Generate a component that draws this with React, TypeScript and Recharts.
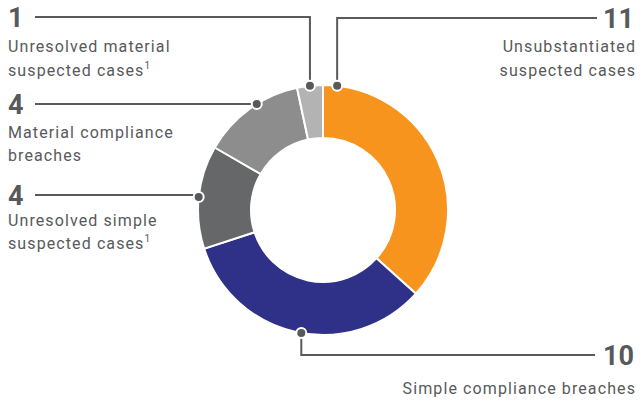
import { PieChart, Pie, Cell } from 'recharts';

const categories = [
  'Unsubstantiated suspected cases',
  'Simple compliance breaches',
  'Unresolved simple suspected cases',
  'Material compliance breaches',
  'Unresolved material suspected cases',
];
const caseCounts = [11, 10, 4, 4, 1];
const descLines = [
  ['Unsubstantiated', 'suspected cases'],
  ['Simple compliance breaches'],
  ['Unresolved simple', 'suspected cases'],
  ['Material compliance', 'breaches'],
  ['Unresolved material', 'suspected cases'],
];
const footnoted = [false, false, true, false, true];
const sliceColors = ['#f7941d', '#2e3187', '#666769', '#8d8d8e', '#b3b3b3'];

// label layout (annotation only)
const labelSide = ['right', 'right', 'left', 'left', 'left'];
const leaderY = [18, 355, 195, 104, 17];
const leaderEnd = [597, 595, 35, 35, 35];
const angleShift = [59.5, 2, 0, -4, 0];
const descOffsets = [[34, 58], [39], [31, 54], [34, 57], [35, 59]];

const data = categories.map((name, i) => ({ name, value: caseCounts[i] }));

const RAD = Math.PI / 180;
const TEXT = '#58595b';
const FONT = 'Roboto, sans-serif';

function renderLabel(props: any) {
  const { cx, cy, midAngle, outerRadius, index } = props;
  const a = (midAngle + angleShift[index]) * RAD;
  const dx = cx + outerRadius * Math.cos(-a);
  const dy = cy + outerRadius * Math.sin(-a);
  const ly = leaderY[index];
  const right = labelSide[index] === 'right';
  const tx = right ? 634 : 8;
  const anchor = right ? 'end' : 'start';
  return (
    <g key={`lbl-${index}`}>
      <polyline
        points={`${leaderEnd[index]},${ly} ${dx},${ly} ${dx},${dy}`}
        fill="none"
        stroke="#5a5a5c"
        strokeWidth={2}
      />
      <circle cx={dx} cy={dy} r={5} fill="#58595b" stroke="#fff" strokeWidth={2} />
      <text x={tx} y={ly + 10} textAnchor={anchor} fill={TEXT} fontFamily={FONT} fontSize={27} fontWeight={700}>
        {caseCounts[index]}
      </text>
      {descLines[index].map((line, j) => (
        <text
          key={j}
          x={right ? 636 : 8}
          y={ly + descOffsets[index][j]}
          textAnchor={anchor}
          fill={TEXT}
          fontFamily={FONT}
          fontSize={16}
          letterSpacing={1.1}
        >
          {line}
          {footnoted[index] && j === descLines[index].length - 1 ? (
            <tspan fontSize={10} dy={-7}>1</tspan>
          ) : null}
        </text>
      ))}
    </g>
  );
}

export default function App() {
  return (
    <div style={{ position: 'absolute', left: 0, top: 0, width: 640, height: 404, background: '#fff' }}>
      <PieChart width={640} height={404} margin={{ top: 0, right: 0, bottom: 0, left: 0 }}>
        <Pie
          data={data}
          dataKey="value"
          cx={323}
          cy={210}
          innerRadius={72}
          outerRadius={125}
          startAngle={90}
          endAngle={-270}
          stroke="#fff"
          strokeWidth={2}
          label={renderLabel}
          labelLine={false}
          isAnimationActive={false}
        >
          {data.map((d, i) => (
            <Cell key={d.name} fill={sliceColors[i]} />
          ))}
        </Pie>
      </PieChart>
    </div>
  );
}
